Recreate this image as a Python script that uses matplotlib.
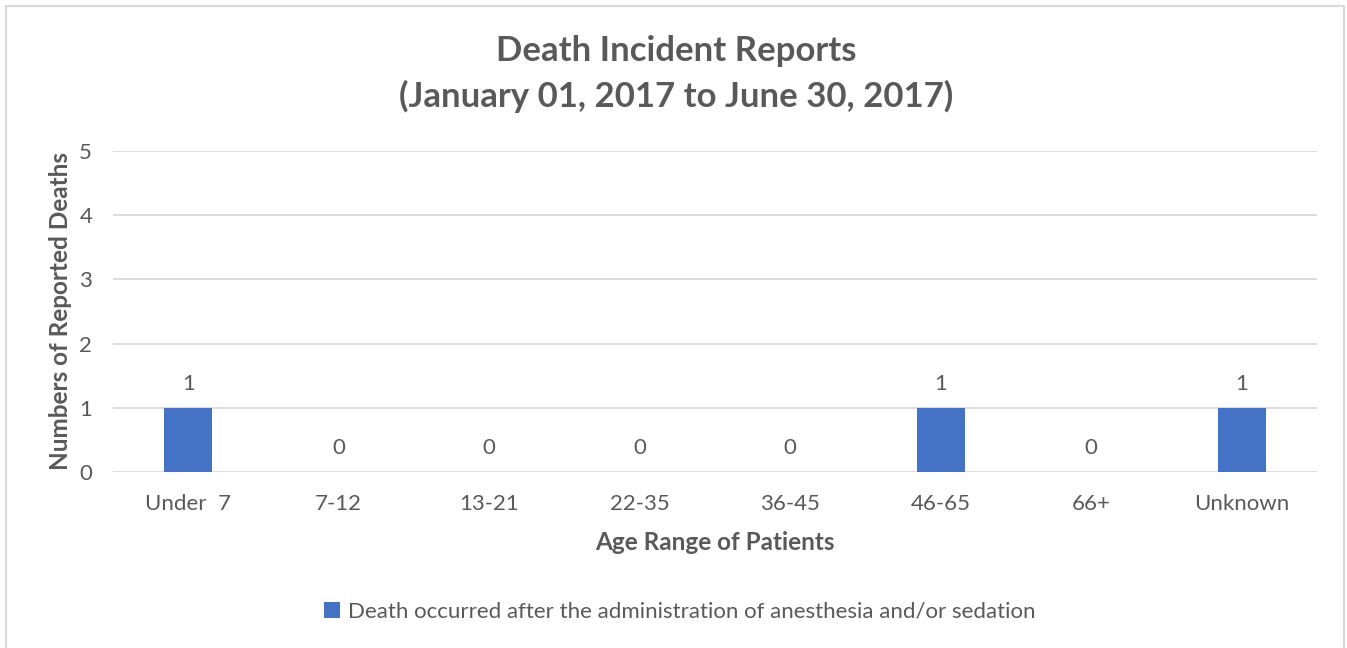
import matplotlib
matplotlib.use("Agg")
import matplotlib.pyplot as plt
from matplotlib.patches import Rectangle

plt.rcParams["font.family"] = ["Lato", "DejaVu Sans"]

# data
age_ranges = ["Under  7", "7-12", "13-21", "22-35", "36-45", "46-65", "66+", "Unknown"]
deaths = [1, 0, 0, 0, 0, 1, 0, 1]
series_name = "Death occurred after the administration of anesthesia and/or sedation"

BLUE = "#4472C4"
TXT = "#595959"
GRID = "#D9D9D9"

fig = plt.figure(figsize=(13.47, 6.48), dpi=100)
fig.patches.append(Rectangle((6 / 1347, -0.01), 1338 / 1347, 1 - 6 / 648 + 0.01,
                             transform=fig.transFigure, fill=False,
                             edgecolor=GRID, lw=1.5))

ax = fig.add_axes([113 / 1347, 1 - 472 / 648, 1204 / 1347, 321 / 648])
x = range(len(age_ranges))
bars = ax.bar(x, deaths, width=0.32, color=BLUE, label=series_name, zorder=3)

ax.set_xlim(-0.5, len(age_ranges) - 0.5)
ax.set_ylim(0, 5)
ax.set_yticks(range(6))
ax.yaxis.grid(True, color=GRID, lw=1.3, zorder=0)
for s in ax.spines.values():
    s.set_visible(False)
ax.tick_params(length=0, labelsize=16, labelcolor=TXT)
ax.tick_params(axis="y", pad=15)
ax.tick_params(axis="x", pad=16)
ax.set_xticks(list(x))
ax.set_xticklabels(age_ranges)

for xi, v in zip(x, deaths):
    ax.annotate(str(v), (xi, v), xytext=(0, 17), textcoords="offset points",
                ha="center", va="center", fontsize=16, color=TXT)

ax.set_xlabel("Age Range of Patients", fontsize=17.5, fontweight="bold", color=TXT, labelpad=12)
ax.set_ylabel("Numbers of Reported Deaths", fontsize=17.5, fontweight="bold", color=TXT, labelpad=5)

fig.text(676 / 1347, 1 - 74 / 648, "Death Incident Reports\n(January 01, 2017 to June 30, 2017)",
         ha="center", va="center", fontsize=25, fontweight="bold", color=TXT, linespacing=1.5)

fig.legend(handles=[bars], labels=[series_name], loc="center",
           bbox_to_anchor=(680 / 1347, 1 - 612 / 648), frameon=False,
           fontsize=16, labelcolor=TXT, handlelength=0.7, handleheight=0.7,
           handletextpad=0.4)

fig.savefig("out.png", dpi=100)
